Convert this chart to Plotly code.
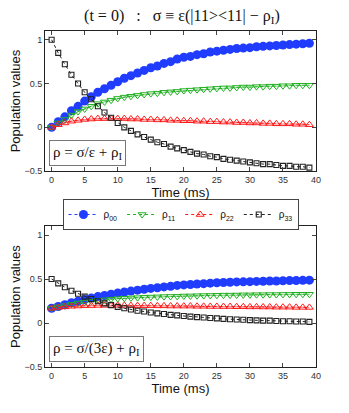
import plotly.graph_objects as go

# time axis (ms)
t = list(range(40))

# top panel: rho = sigma/eps + rho_I
top_rho00 = [0.0, 0.065, 0.12, 0.19, 0.24, 0.30, 0.35, 0.40, 0.44, 0.48,
             0.52, 0.56, 0.59, 0.62, 0.65, 0.68, 0.70, 0.73, 0.75, 0.78,
             0.80, 0.81, 0.83, 0.84, 0.86, 0.87, 0.88, 0.89, 0.90, 0.905,
             0.91, 0.92, 0.925, 0.93, 0.935, 0.94, 0.945, 0.95, 0.955, 0.96]
top_rho11 = [0.0, 0.05, 0.09, 0.14, 0.18, 0.21, 0.24, 0.27, 0.29, 0.31,
             0.33, 0.345, 0.355, 0.365, 0.375, 0.385, 0.39, 0.40, 0.405, 0.41,
             0.42, 0.425, 0.43, 0.435, 0.44, 0.445, 0.45, 0.45, 0.455, 0.46,
             0.46, 0.465, 0.465, 0.47, 0.47, 0.475, 0.475, 0.48, 0.48, 0.48]
top_rho22 = [0.0, 0.03, 0.05, 0.07, 0.08, 0.09, 0.095, 0.10, 0.10, 0.10,
             0.10, 0.10, 0.095, 0.095, 0.09, 0.09, 0.085, 0.085, 0.08, 0.08,
             0.075, 0.075, 0.07, 0.07, 0.065, 0.065, 0.06, 0.06, 0.055, 0.055,
             0.05, 0.05, 0.045, 0.045, 0.04, 0.04, 0.04, 0.035, 0.035, 0.03]
top_rho33 = [1.0, 0.85, 0.72, 0.60, 0.50, 0.40, 0.32, 0.24, 0.17, 0.11,
             0.05, 0.0, -0.04, -0.08, -0.11, -0.14, -0.17, -0.19, -0.22, -0.24,
             -0.26, -0.28, -0.30, -0.31, -0.33, -0.34, -0.36, -0.37, -0.38, -0.39,
             -0.40, -0.41, -0.42, -0.42, -0.43, -0.44, -0.44, -0.45, -0.45, -0.46]

# bottom panel: rho = sigma/(3 eps) + rho_I
bot_rho00 = [0.167, 0.188, 0.207, 0.23, 0.247, 0.267, 0.283, 0.30, 0.313, 0.327,
             0.34, 0.353, 0.363, 0.373, 0.383, 0.393, 0.40, 0.41, 0.417, 0.427,
             0.433, 0.437, 0.443, 0.447, 0.453, 0.457, 0.46, 0.463, 0.467, 0.468,
             0.47, 0.473, 0.475, 0.477, 0.478, 0.48, 0.482, 0.483, 0.485, 0.487]
bot_rho11 = [0.167, 0.183, 0.197, 0.213, 0.227, 0.237, 0.247, 0.257, 0.263, 0.27,
             0.277, 0.282, 0.285, 0.288, 0.292, 0.295, 0.297, 0.30, 0.302, 0.303,
             0.307, 0.308, 0.31, 0.312, 0.313, 0.315, 0.317, 0.317, 0.318, 0.32,
             0.32, 0.322, 0.322, 0.323, 0.323, 0.325, 0.325, 0.327, 0.327, 0.327]
bot_rho22 = [0.167, 0.177, 0.183, 0.19, 0.193, 0.197, 0.198, 0.20, 0.20, 0.20,
             0.20, 0.20, 0.198, 0.198, 0.197, 0.197, 0.195, 0.195, 0.193, 0.193,
             0.192, 0.192, 0.19, 0.19, 0.188, 0.188, 0.187, 0.187, 0.185, 0.185,
             0.183, 0.183, 0.182, 0.182, 0.18, 0.18, 0.18, 0.178, 0.178, 0.177]
bot_rho33 = [0.50, 0.45, 0.407, 0.367, 0.333, 0.30, 0.273, 0.247, 0.223, 0.203,
             0.183, 0.167, 0.153, 0.14, 0.13, 0.12, 0.11, 0.103, 0.093, 0.087,
             0.08, 0.073, 0.067, 0.063, 0.057, 0.053, 0.047, 0.043, 0.04, 0.037,
             0.033, 0.03, 0.027, 0.027, 0.023, 0.02, 0.02, 0.017, 0.017, 0.013]

names = ["ρ<sub>00</sub>", "ρ<sub>11</sub>", "ρ<sub>22</sub>", "ρ<sub>33</sub>"]
colors = ["#1f3cff", "#22b022", "#ff1a1a", "#222222"]
light = ["rgba(31,60,255,0.45)", "rgba(34,176,34,0.5)", "rgba(255,26,26,0.5)", "rgba(0,0,0,0)"]
markers = [
    dict(symbol="circle", size=9),
    dict(symbol="triangle-down-open", size=7, line=dict(width=1)),
    dict(symbol="triangle-up-open", size=7, line=dict(width=1)),
    dict(symbol="square-open", size=5, line=dict(width=1.1)),
]

fig = go.Figure()

panels = [
    ("x", "y", [top_rho00, top_rho11, top_rho22, top_rho33]),
    ("x2", "y2", [bot_rho00, bot_rho11, bot_rho22, bot_rho33]),
]

for p, (xa, ya, series) in enumerate(panels):
    # smooth solid curves underneath
    for i, vals in enumerate(series):
        fig.add_trace(go.Scatter(
            x=t, y=vals, xaxis=xa, yaxis=ya, mode="lines",
            line=dict(color=light[i], width=1.3),
            showlegend=False, hoverinfo="skip",
        ))
    for i, vals in enumerate(series):
        fig.add_trace(go.Scatter(
            x=t, y=vals, xaxis=xa, yaxis=ya, mode="lines+markers",
            name=names[i],
            line=dict(color=colors[i], width=1, dash="dot"),
            marker=dict(color=colors[i], **markers[i]),
            showlegend=(p == 0),
        ))

axis_font = dict(family="Liberation Sans, Arial", size=9, color="#333333")
xcommon = dict(
    range=[-1, 40], tickvals=[0, 5, 10, 15, 20, 25, 30, 35, 40],
    ticks="inside", ticklen=4, showline=True, linecolor="#222222", linewidth=1,
    mirror="ticks", showgrid=False, zeroline=False, tickfont=axis_font,
    automargin=False,
    title=dict(text="Time (ms)", font=dict(family="Liberation Sans, Arial", size=13, color="#111111"),
               standoff=3),
)
ycommon = dict(
    range=[-0.5, 1.1], tickvals=[-0.5, 0, 0.5, 1], ticktext=["−0.5", "0", "0.5", "1"],
    ticks="inside", ticklen=4, showline=True, linecolor="#222222", linewidth=1,
    mirror="ticks", showgrid=False, zeroline=False, tickfont=axis_font,
    automargin=False,
    title=dict(text="Population values", font=dict(family="Liberation Sans, Arial", size=13, color="#111111"),
               standoff=0),
)

box_font = dict(family="Liberation Serif, Times New Roman, serif", size=15, color="#111111")

# page body keeps an 8px margin, so the figure is a bit smaller than the window
fig.update_layout(
    width=341, height=405,
    paper_bgcolor="white", plot_bgcolor="white",
    margin=dict(l=37, r=33, t=23, b=46, autoexpand=False),
    xaxis=dict(domain=[0, 1], anchor="y", **xcommon),
    yaxis=dict(domain=[0.583, 1], anchor="x", **ycommon),
    xaxis2=dict(domain=[0, 1], anchor="y2", **xcommon),
    yaxis2=dict(domain=[0, 0.419], anchor="x2", **ycommon),
    title=dict(
        text="(t = 0)   :   σ ≡ ε(|11><11| − ρ<sub>I</sub>)",
        x=0.51, xanchor="center", y=0.982, yanchor="middle",
        font=dict(family="Liberation Serif, Times New Roman, serif", size=16, color="#111111"),
    ),
    legend=dict(
        orientation="h", x=0.5, xanchor="center", y=0.50, yanchor="top",
        bordercolor="#444444", borderwidth=1, bgcolor="white",
        font=dict(family="Liberation Sans, Arial", size=10, color="#111111"),
        itemwidth=30, tracegroupgap=0,
    ),
    showlegend=True,
    annotations=[
        dict(text="ρ = σ/ε + ρ<sub>I</sub>", xref="x domain", yref="y domain",
             x=0.015, y=0.035, xanchor="left", yanchor="bottom", showarrow=False,
             font=box_font, bordercolor="#777777", borderwidth=1, borderpad=3,
             bgcolor="white"),
        dict(text="ρ = σ/(3ε) + ρ<sub>I</sub>", xref="x2 domain", yref="y2 domain",
             x=0.015, y=0.035, xanchor="left", yanchor="bottom", showarrow=False,
             font=box_font, bordercolor="#777777", borderwidth=1, borderpad=3,
             bgcolor="white"),
    ],
)

fig.write_html("out.html")
